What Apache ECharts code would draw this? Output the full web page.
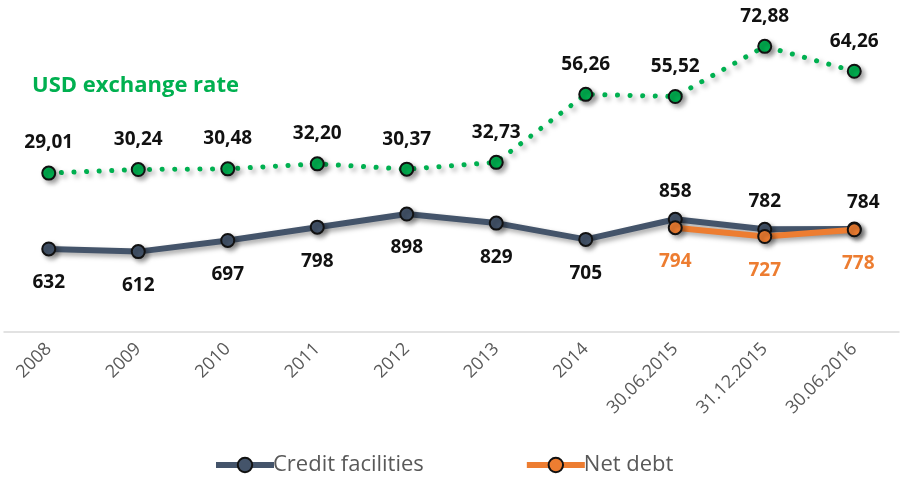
<!DOCTYPE html>
<html>
<head>
<meta charset="utf-8">
<script src="https://cdn.jsdelivr.net/npm/echarts@6/dist/echarts.min.js"></script>
<style>
  html, body { margin: 0; padding: 0; background: #fff; }
</style>
</head>
<body>
<div id="main" style="width: 908px; height: 478px"></div>
<script>
// 数据
const periods = ['2008', '2009', '2010', '2011', '2012', '2013', '2014', '30.06.2015', '31.12.2015', '30.06.2016']
const creditFacilities = [632, 612, 697, 798, 898, 829, 705, 858, 782, 784]
const netDebt = [null, null, null, null, null, null, null, 794, 727, 778]
const usdRate = [29.01, 30.24, 30.48, 32.20, 30.37, 32.73, 56.26, 55.52, 72.88, 64.26]

const shadow = {
  shadowColor: 'rgba(0,0,0,0.35)',
  shadowBlur: 5,
  shadowOffsetX: 3,
  shadowOffsetY: 3
}
const labelFont = {
  fontFamily: 'Open Sans',
  fontWeight: 'bold',
  fontSize: 19
}

var myChart = echarts.init(document.getElementById('main'))

// 最后三个点标签放上方
const creditData = creditFacilities.map(function(v, i) {
  if (i >= 7) {
    return { value: v, label: { position: 'top', distance: 11, offset: i === 9 ? [9, 2] : [0, 0] } }
  }
  return v
})
const netDebtData = netDebt.map(function(v, i) {
  if (i === 9) return { value: v, label: { offset: [4, 0] } }
  return v
})

var option = {
  animation: false,
  title: {
    text: 'USD exchange rate',
    left: 27,
    top: 70,
    textStyle: { color: '#00B050', fontFamily: 'Open Sans', fontWeight: 'bold', fontSize: 22 }
  },
  legend: {
    left: 208,
    top: 449,
    itemWidth: 58,
    itemHeight: 18,
    itemGap: 100,
    data: ['Credit facilities', 'Net debt'],
    lineStyle: { width: 6 },
    textStyle: { color: '#595959', fontFamily: 'Open Sans', fontSize: 22, padding: [0, 0, 0, -6] }
  },
  grid: { left: 4, right: 9, top: 20, bottom: 146, containLabel: false },
  xAxis: {
    type: 'category',
    data: periods,
    axisLine: { lineStyle: { color: '#D9D9D9', width: 1.5 } },
    axisTick: { show: false },
    axisLabel: { rotate: 45, margin: 14, color: '#595959', fontFamily: 'Open Sans', fontSize: 18, interval: 0 }
  },
  yAxis: [
    { type: 'value', min: 0, max: 2375, show: false, splitLine: { show: false } },
    { type: 'value', min: -26, max: 82, show: false, splitLine: { show: false } }
  ],
  series: [
    {
      name: 'USD exchange rate',
      type: 'line',
      yAxisIndex: 1,
      data: usdRate,
      symbol: 'circle',
      symbolSize: 13,
      itemStyle: Object.assign({ color: '#00B050', borderColor: '#111', borderWidth: 2 }, shadow),
      lineStyle: Object.assign({ color: '#00B050', width: 5, type: [0.1, 12.5], cap: 'round' }, shadow),
      label: Object.assign({
        show: true,
        position: 'top',
        distance: 13,
        color: '#111',
        formatter: function(p) { return p.value.toFixed(2).replace('.', ',') }
      }, labelFont),
      z: 3
    },
    {
      name: 'Credit facilities',
      type: 'line',
      data: creditData,
      symbol: 'circle',
      symbolSize: 13,
      itemStyle: Object.assign({ color: '#44546A', borderColor: '#111', borderWidth: 2 }, shadow),
      lineStyle: Object.assign({ color: '#44546A', width: 6 }, shadow),
      label: Object.assign({ show: true, position: 'bottom', distance: 17, color: '#111' }, labelFont),
      z: 4
    },
    {
      name: 'Net debt',
      type: 'line',
      data: netDebtData,
      symbol: 'circle',
      symbolSize: 13,
      connectNulls: false,
      itemStyle: Object.assign({ color: '#ED7D31', borderColor: '#111', borderWidth: 2 }, shadow),
      lineStyle: Object.assign({ color: '#ED7D31', width: 6 }, shadow),
      label: Object.assign({ show: true, position: 'bottom', distance: 17, color: '#ED7D31' }, labelFont),
      z: 5
    }
  ]
}
myChart.setOption(option)
</script>
</body>
</html>
